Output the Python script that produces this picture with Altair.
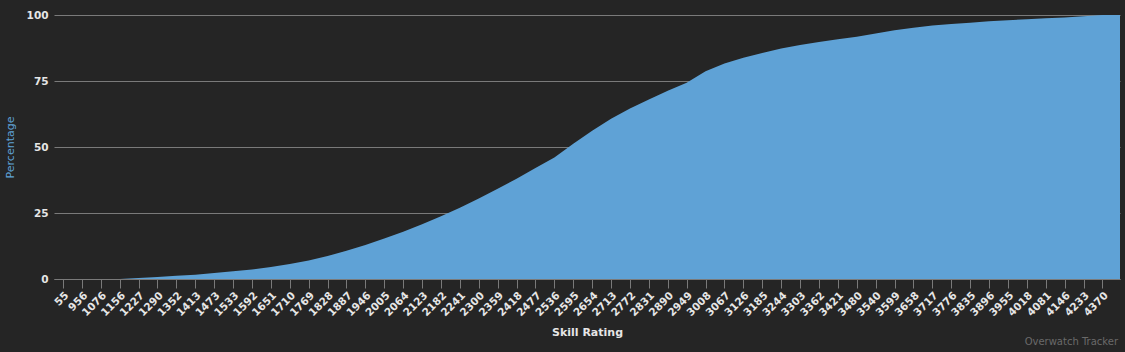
import altair as alt
import pandas as pd

labels = ["55", "956", "1076", "1156", "1227", "1290", "1352", "1413", "1473", "1533",
          "1592", "1651", "1710", "1769", "1828", "1887", "1946", "2005", "2064", "2123",
          "2182", "2241", "2300", "2359", "2418", "2477", "2536", "2595", "2654", "2713",
          "2772", "2831", "2890", "2949", "3008", "3067", "3126", "3185", "3244", "3303",
          "3362", "3421", "3480", "3540", "3599", "3658", "3717", "3776", "3835", "3896",
          "3955", "4018", "4081", "4146", "4233", "4370"]

percent = [0, 0, 0, 0, 0.4, 0.75, 1.2, 1.6, 2.3, 2.9,
           3.6, 4.5, 5.7, 7.0, 8.7, 10.7, 12.9, 15.3, 17.9, 20.7,
           23.8, 27.0, 30.5, 34.2, 38.0, 42.0, 46.0, 51.2, 56.2, 60.7,
           64.6, 68.0, 71.3, 74.3, 78.7, 81.6, 83.8, 85.6, 87.3, 88.6,
           89.8, 90.8, 91.8, 93.0, 94.2, 95.2, 96.0, 96.6, 97.1, 97.6,
           98.0, 98.4, 98.8, 99.1, 99.5, 100.0]

# the curve stays at 100 past the last labelled rating
tail_index = [56]
tail_percent = [100.0]

idx = list(range(len(labels))) + tail_index
vals = percent + tail_percent
df = pd.DataFrame({"idx": idx, "pct": vals})

label_array = "[" + ",".join("'" + l + "'" for l in labels) + "]"

FONT = "DejaVu Sans"
AREA = "#5fa2d6"

area = alt.Chart(df).mark_area(color=AREA, clip=True, interpolate="linear").encode(
    x=alt.X("idx:Q",
            scale=alt.Scale(domain=[-0.476, 55.93], nice=False, zero=False),
            axis=alt.Axis(
                values=list(range(len(labels))),
                labelExpr=label_array + "[datum.value]",
                labelAngle=-45,
                labelFont=FONT, labelFontSize=10.5, labelFontWeight="bold",
                labelColor="#e6e6e6", labelPadding=2,
                labelOverlap=False, labelBound=False, labelFlush=False,
                grid=False, domain=True, domainColor="#7a7a7a",
                ticks=True, tickColor="#7a7a7a", tickSize=9,
                title="Skill Rating", titleFont=FONT, titleFontSize=11,
                titleFontWeight="bold", titleColor="#e6e6e6", titlePadding=8,
            )),
    y=alt.Y("pct:Q",
            scale=alt.Scale(domain=[0, 100], nice=False),
            axis=alt.Axis(
                values=[0, 25, 50, 75, 100],
                labelFont=FONT, labelFontSize=10.5, labelFontWeight="bold",
                labelColor="#e6e6e6", labelPadding=6,
                grid=True, gridColor="#7a7a7a", gridWidth=1,
                domain=False, ticks=False,
                title="Percentage", titleFont=FONT, titleFontSize=11,
                titleFontWeight="normal", titleColor="#5fa2d6", titlePadding=11,
            )),
)

watermark = alt.Chart(pd.DataFrame({"t": ["Overwatch Tracker"]})).mark_text(
    align="right", baseline="middle", font=FONT, fontSize=10, color="#6a6a6a"
).encode(text="t:N", x=alt.value(1064), y=alt.value(327))

chart = alt.layer(area, watermark).properties(
    width=1066, height=264,
    background="#252525",
    padding={"left": 54, "top": 15, "right": 5, "bottom": 73},
    autosize=alt.AutoSizeParams(type="none"),
).configure_view(stroke=None)

chart.save("out.html", embed_options={"renderer": "svg", "actions": False})
